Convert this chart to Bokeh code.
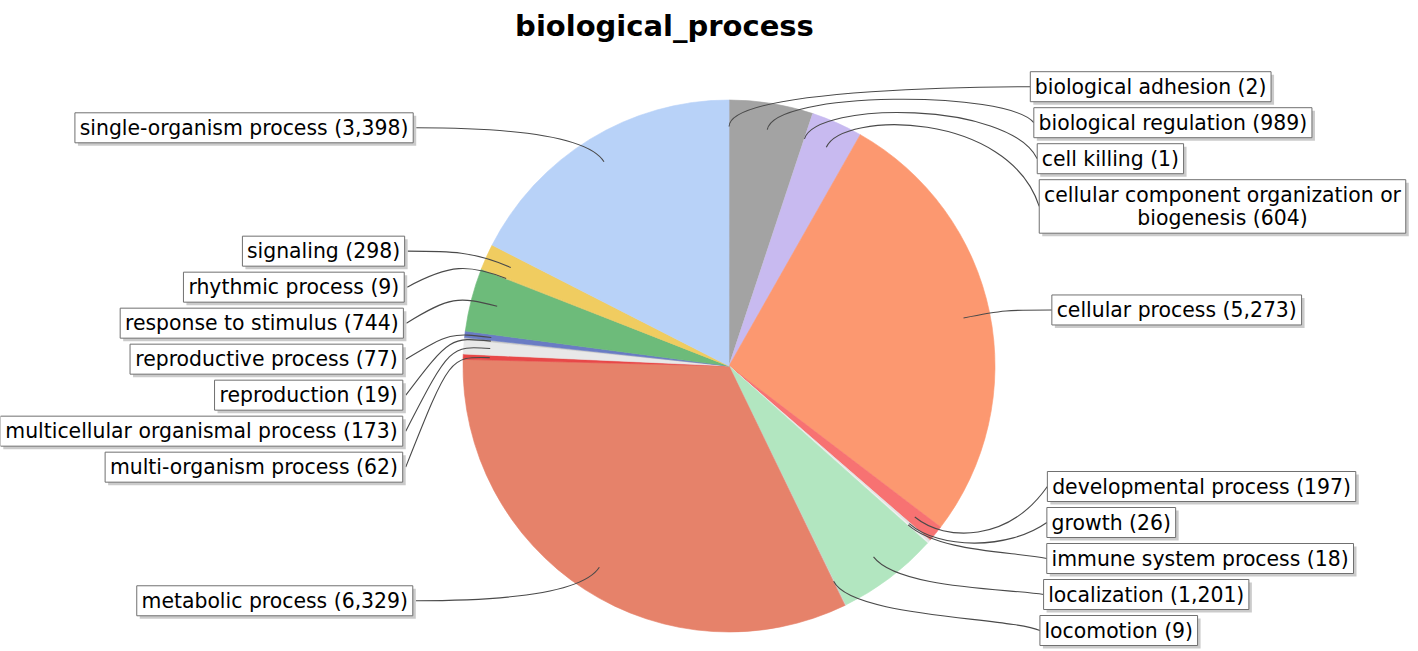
import math
from bokeh.plotting import figure
from bokeh.models import Range1d
from bokeh.embed import file_html
from bokeh.resources import INLINE
from bokeh.core.properties import value

# ---------------- data ----------------
TITLE = "biological_process"
categories = [
    "biological adhesion", "biological regulation", "cell killing",
    "cellular component organization or biogenesis", "cellular process",
    "developmental process", "growth", "immune system process", "localization",
    "locomotion", "metabolic process", "multi-organism process",
    "multicellular organismal process", "reproduction", "reproductive process",
    "response to stimulus", "rhythmic process", "signaling",
    "single-organism process",
]
counts = [2, 989, 1, 604, 5273, 197, 26, 18, 1201, 9, 6329, 62, 173, 19, 77, 744, 9, 298, 3398]
colors = [
    "#b0b0b0", "#a3a3a3", "#c4c4c4", "#c8baf0", "#fc9870",
    "#f77272", "#e4e4e4", "#f0f0f0", "#b2e6c0", "#d0d0d0",
    "#e6826a", "#e84848", "#e8e8e8", "#c8c8c8", "#6a7cc4",
    "#6dbb7a", "#d8c870", "#f0cc60", "#b8d2f8",
]

# ---------------- layout / style ----------------
W, H = 1418, 651
CX, CY, R = 728.5, 365.5, 266.0
RL = 1.05 * R
LINK_PCT = 0.9
LGAP = 44.0
FONT = "DejaVu Sans"
FS = 20.4
PAD = 4.5
LINE_H = 23.5
BOX_EXTRA = 6.5
SHADOW = 3.0
MIN_GAP = 4.0
TOP_BOUND, BOTTOM_BOUND = 40.0, 646.0
MAX_W = 410.0

ADV = {' ': 651, '(': 799, ')': 799, ',': 651, '-': 739, '_': 1024,
       'a': 1255, 'b': 1300, 'c': 1126, 'd': 1300, 'e': 1260, 'f': 721, 'g': 1300,
       'h': 1298, 'i': 569, 'j': 569, 'k': 1186, 'l': 569, 'm': 1995, 'n': 1298,
       'o': 1253, 'p': 1300, 'q': 1300, 'r': 842, 's': 1067, 't': 803, 'u': 1298,
       'v': 1212, 'w': 1675, 'x': 1212, 'y': 1212, 'z': 1075}
for d in "0123456789":
    ADV[d] = 1303


def tw(s):
    return sum(ADV.get(ch, 1250) for ch in s) / 2048.0 * FS


def wrap(s):
    words = s.split(" ")
    lines, cur = [], ""
    for w_ in words:
        cand = w_ if not cur else cur + " " + w_
        if tw(cand) <= MAX_W or not cur:
            cur = cand
        else:
            lines.append(cur)
            cur = w_
    lines.append(cur)
    return lines


total = float(sum(counts))
recs = []
cum = 0.0
starts, ends = [], []
for name, c in zip(categories, counts):
    a0 = cum / total * 360.0
    cum += c
    a1 = cum / total * 360.0
    # Bokeh angles are screen angles (counter-clockwise, y up)
    starts.append(math.radians(90.0 - a1))
    ends.append(math.radians(90.0 - a0))
    th = math.radians(90.0 - (a0 + a1) / 2.0)
    label = f"{name} ({c:,})"
    lines = wrap(label)
    bw = max(tw(l) for l in lines) + 2 * PAD
    bh = len(lines) * LINE_H + BOX_EXTRA
    recs.append(dict(th=th, lines=lines, bw=bw, bh=bh, h=bh + 2.0,
                     y=CY - math.sin(th) * RL, right=math.cos(th) >= 0))


def overlap(rs):
    y = -1e9
    for r in rs:
        if y > r["y"] - r["h"] / 2:
            return True
        y = r["y"] + r["h"] / 2
    return False


def distribute(rs):
    rs.sort(key=lambda r: r["y"])
    if overlap(rs):
        for i in range(len(rs) - 1):
            r0, r1 = rs[i], rs[i + 1]
            if r1["y"] - r1["h"] / 2 < r0["y"] + r0["h"] / 2:
                r1["y"] = min(BOTTOM_BOUND - r1["h"] / 2,
                              r0["y"] + r0["h"] / 2 + MIN_GAP + r1["h"] / 2)
    if overlap(rs):
        for i in range(len(rs) - 1, 0, -1):
            r0, r1 = rs[i], rs[i - 1]
            if r1["y"] + r1["h"] / 2 > r0["y"] - r0["h"] / 2:
                r1["y"] = max(TOP_BOUND + r1["h"] / 2,
                              r0["y"] - r0["h"] / 2 - MIN_GAP - r1["h"] / 2)


distribute([r for r in recs if r["right"]])
distribute([r for r in recs if not r["right"]])

# ---------------- figure ----------------
# y axis runs downward, in reference-image pixels
p = figure(width=W, height=H, x_range=Range1d(0, W), y_range=Range1d(H, 0),
           output_backend="svg", toolbar_location=None, min_border=0,
           x_axis_type=None, y_axis_type=None)
p.grid.visible = False
p.outline_line_color = None
p.background_fill_color = "white"
p.border_fill_color = "white"

p.wedge(x=CX, y=CY, radius=R, start_angle=starts, end_angle=ends,
        direction="anticlock", fill_color=colors, line_color=colors, line_width=0.6)

bx0, by0, bx1, by1, bcx0, bcy0, bcx1, bcy1 = ([] for _ in range(8))
sh_x, sh_y, bxs, bys, bws, bhs = [], [], [], [], [], []
tx, ty, tt = [], [], []
for r in recs:
    th = r["th"]
    c = math.cos(th)
    if r["right"]:
        anchor_x = CX + RL
        target_x = anchor_x + LGAP / 2 + LGAP / 2 * c
        box_cx = target_x + r["bw"] / 2
    else:
        anchor_x = CX - RL
        target_x = anchor_x - (LGAP / 2 - LGAP / 2 * c)
        box_cx = target_x - SHADOW - r["bw"] / 2
    ty_ = r["y"]
    link_x = CX + c * R * LINK_PCT
    link_y = CY - math.sin(th) * R * LINK_PCT
    elbow_x = CX + c * RL
    elbow_y = CY - math.sin(th) * RL
    bx0.append(target_x); by0.append(ty_)
    bx1.append(link_x); by1.append(link_y)
    bcx0.append(anchor_x); bcy0.append(elbow_y)
    bcx1.append(elbow_x); bcy1.append(elbow_y)
    bxs.append(box_cx); bys.append(ty_); bws.append(r["bw"]); bhs.append(r["bh"])
    sh_x.append(box_cx + SHADOW); sh_y.append(ty_ + SHADOW)
    n = len(r["lines"])
    for k, ln in enumerate(r["lines"]):
        tx.append(box_cx)
        ty.append(ty_ + (k - (n - 1) / 2.0) * LINE_H)
        tt.append(ln)

p.bezier(x0=bx0, y0=by0, x1=bx1, y1=by1, cx0=bcx0, cy0=bcy0, cx1=bcx1, cy1=bcy1,
         line_color="#4a4a4a", line_width=1.1)
p.rect(x=sh_x, y=sh_y, width=bws, height=bhs, fill_color="#cbcbcb", line_color=None)
p.rect(x=bxs, y=bys, width=bws, height=bhs, fill_color="white",
       line_color="#707070", line_width=1)
p.text(x=tx, y=ty, text=tt, text_align="center", text_baseline="middle",
       text_font=value(FONT), text_font_size=f"{FS}px", text_color="black")

p.text(x=[664], y=[25], text=[TITLE], text_align="center",
       text_baseline="alphabetic", text_font=value(FONT), text_font_size="29px",
       text_font_style="bold", text_color="black")

open("out.html", "w").write(file_html(p, INLINE))
